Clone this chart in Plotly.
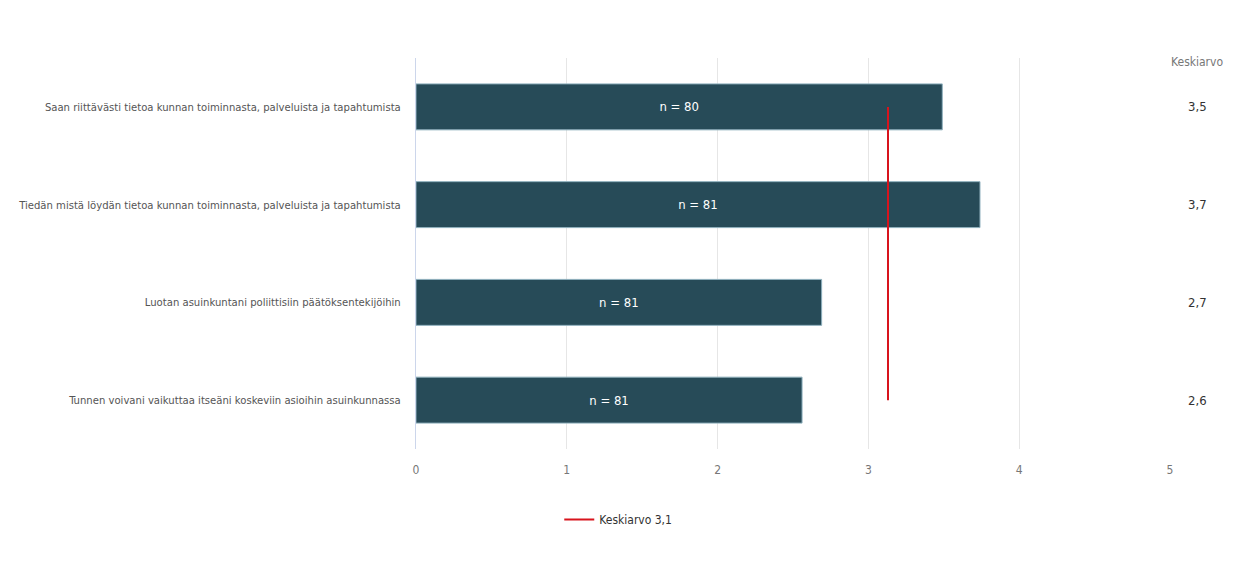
import plotly.graph_objects as go

categories = [
    "Saan riittävästi tietoa kunnan toiminnasta, palveluista ja tapahtumista",
    "Tiedän mistä löydän tietoa kunnan toiminnasta, palveluista ja tapahtumista",
    "Luotan asuinkuntani poliittisiin päätöksentekijöihin",
    "Tunnen voivani vaikuttaa itseäni koskeviin asioihin asuinkunnassa",
]
means = [3.49, 3.74, 2.69, 2.56]
n_counts = [80, 81, 81, 81]
overall_mean = 3.13
x_ticks = [0, 1, 2, 3, 4, 5]

FONT = "DejaVu Sans Condensed, Liberation Sans Narrow, sans-serif"

fig = go.Figure()
fig.add_trace(go.Bar(
    y=categories, x=means, orientation="h",
    marker=dict(color="#274b58", line=dict(color="#8fb0bd", width=1)),
    width=0.47,
    text=[f"n = {n}" for n in n_counts],
    textposition="inside", insidetextanchor="middle",
    textfont=dict(color="white", size=13, family=FONT),
    showlegend=False, hoverinfo="skip",
))
fig.add_trace(go.Scatter(
    x=[overall_mean, overall_mean], y=[categories[0], categories[-1]],
    mode="lines", line=dict(color="#d8141d", width=2),
    name=f"Keskiarvo {overall_mean:.1f}".replace(".", ","),
    showlegend=True, hoverinfo="skip",
))

annotations = [dict(
    x=1.036, y=0.99, xref="paper", yref="paper", text="Keskiarvo", showarrow=False,
    font=dict(size=12, color="#777777", family=FONT), xanchor="center", yanchor="middle",
)]
for c, m in zip(categories, means):
    annotations.append(dict(
        x=1.036, y=c, xref="paper", yref="y", text=f"{m:.1f}".replace(".", ","),
        showarrow=False, font=dict(size=13, color="#333333", family=FONT),
        xanchor="center", yanchor="middle",
    ))

fig.update_layout(
    width=1243, height=561,
    margin=dict(l=408, r=81, t=50, b=120),
    plot_bgcolor="white", paper_bgcolor="white",
    font=dict(family=FONT, size=11.2, color="#555555"),
    xaxis=dict(
        range=[0, 5], tickvals=x_ticks, ticktext=[str(t) for t in x_ticks],
        showgrid=True, gridcolor="#e6e6e6", gridwidth=1,
        zeroline=False, showline=False, automargin=False,
        tickfont=dict(size=12, color="#777777", family=FONT),
        ticklabelstandoff=12,
    ),
    yaxis=dict(
        range=[3.5, -0.5], showgrid=False, zeroline=False,
        showline=True, linecolor="#ccd6eb", linewidth=1, automargin=False,
        tickfont=dict(size=11.2, color="#555555", family=FONT),
        ticklabelstandoff=12,
    ),
    legend=dict(
        orientation="h", x=0.19, y=-0.18, xanchor="left", yanchor="middle",
        font=dict(size=12, color="#333333", family=FONT),
    ),
    annotations=annotations,
)

fig.write_html("out.html")
